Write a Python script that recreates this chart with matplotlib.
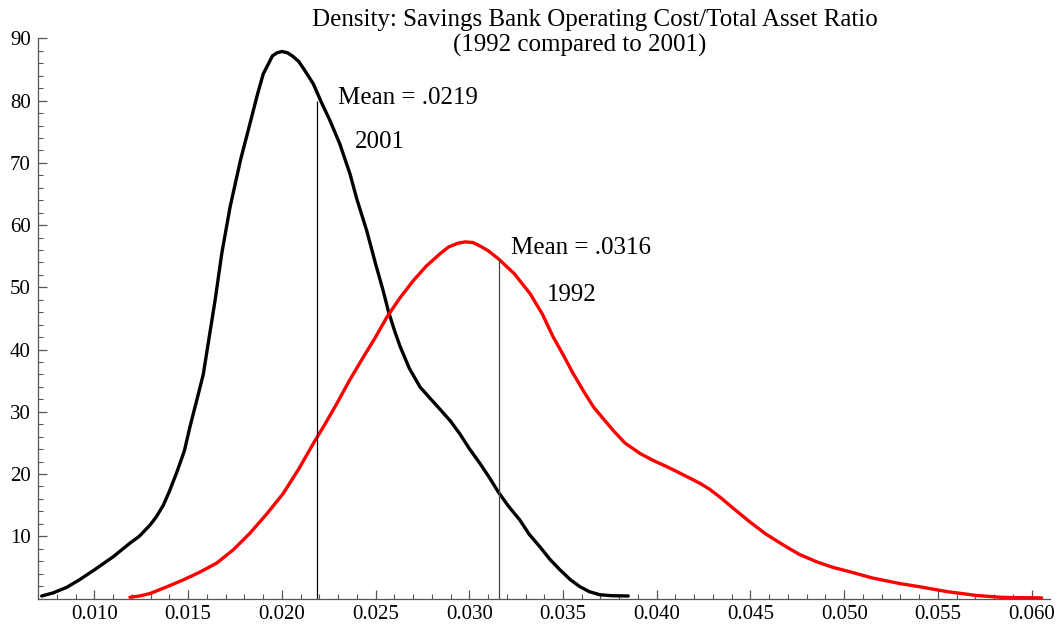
import matplotlib
matplotlib.use("Agg")
import matplotlib.pyplot as plt
from matplotlib.ticker import MultipleLocator, FixedLocator

plt.rcParams["font.family"] = ["Liberation Serif", "DejaVu Serif"]

# density estimates
x_2001 = [0.00719, 0.0078, 0.00853, 0.0092, 0.0100, 0.0110, 0.01190, 0.0124,
          0.01297, 0.0133, 0.01368, 0.0140, 0.01440, 0.0148, 0.01510, 0.0155,
          0.01581, 0.0161, 0.01644, 0.0168, 0.01724, 0.0178, 0.01830, 0.0187,
          0.01901, 0.0193, 0.01950, 0.01975, 0.02000, 0.0203, 0.02060, 0.0209,
          0.02115, 0.02168, 0.0221, 0.02257, 0.0231, 0.02364, 0.0240, 0.02453,
          0.0250, 0.02542, 0.0257, 0.02604, 0.02631, 0.0268, 0.02737, 0.0279,
          0.02844, 0.0290, 0.02951, 0.0300, 0.03057, 0.0311, 0.03155, 0.0321,
          0.03270, 0.0332, 0.03377, 0.0343, 0.03484, 0.0354, 0.03590, 0.0364,
          0.03697, 0.0376, 0.03848]
y_2001 = [0.4, 0.9, 1.8, 3.0, 4.6, 6.7, 8.9, 10.0,
          11.8, 13.1, 15.0, 17.2, 20.3, 23.7, 27.6, 32.3,
          36.0, 41.5, 47.9, 55.5, 62.9, 70.5, 76.3, 81.0,
          84.3, 86.0, 87.2, 87.7, 87.9, 87.7, 87.1, 86.3,
          85.2, 82.7, 79.8, 76.8, 73.0, 68.2, 64.2, 59.1,
          53.8, 49.3, 46.0, 42.8, 40.5, 37.0, 34.0, 32.2,
          30.4, 28.5, 26.4, 24.1, 21.7, 19.3, 17.1, 14.8,
          12.6, 10.3, 8.3, 6.3, 4.6, 3.0, 1.9, 1.1,
          0.6, 0.45, 0.4]

x_1992 = [0.01190, 0.0124, 0.01297, 0.0138, 0.01475, 0.0156, 0.01653, 0.0174,
          0.01830, 0.0192, 0.02008, 0.0209, 0.02168, 0.0223, 0.02293, 0.0236,
          0.02435, 0.0250, 0.02560, 0.0263, 0.02702, 0.0277, 0.02844, 0.0289,
          0.0294, 0.02977, 0.0302, 0.03060, 0.0310, 0.03155, 0.0324, 0.03324,
          0.0339, 0.03448, 0.0350, 0.03555, 0.0361, 0.03662, 0.0372, 0.03768,
          0.0383, 0.03911, 0.0398, 0.04053, 0.0414, 0.04231, 0.0428, 0.04337,
          0.0442, 0.04497, 0.0458, 0.04675, 0.0476, 0.04853, 0.0494, 0.05030,
          0.0515, 0.05297, 0.0540, 0.05475, 0.0555, 0.05653, 0.0570, 0.05831,
          0.0590, 0.06053]
y_1992 = [0.2, 0.4, 0.8, 1.8, 3.0, 4.2, 5.7, 7.8,
          10.5, 13.6, 16.9, 20.8, 24.9, 28.0, 31.3, 35.0,
          38.8, 42.0, 45.2, 48.3, 51.1, 53.4, 55.4, 56.5,
          57.1, 57.3, 57.2, 56.6, 55.9, 54.6, 52.2, 49.0,
          45.7, 42.0, 39.2, 36.1, 33.3, 30.8, 28.7, 27.0,
          25.0, 23.3, 22.2, 21.2, 19.9, 18.5, 17.6, 16.3,
          14.2, 12.3, 10.4, 8.6, 7.1, 5.9, 5.0, 4.3,
          3.3, 2.4, 1.9, 1.5, 1.1, 0.7, 0.5, 0.2,
          0.15, 0.1]

mean_2001, mean_2001_top = 0.0219, 80.0
mean_1992, mean_1992_top = 0.0316, 54.6

x_ticks = [0.010, 0.015, 0.020, 0.025, 0.030, 0.035, 0.040, 0.045, 0.050, 0.055, 0.060]
x_tick_labels = ["0.010", "0.015", "0.020", "0.025", "0.030", "0.035",
                 "0.040", "0.045", "0.050", "0.055", "0.060"]
y_ticks = [10, 20, 30, 40, 50, 60, 70, 80, 90]

fig = plt.figure(figsize=(10.6, 6.3), dpi=100)
ax = fig.add_axes([0.0356, 0.05, 0.955, 0.889])

ax.plot(x_2001, y_2001, color="black", lw=2.4, solid_capstyle="round",
        solid_joinstyle="round")
ax.plot(x_1992, y_1992, color="#ff0000", lw=2.4, solid_capstyle="round",
        solid_joinstyle="round")

ax.vlines([mean_2001, mean_1992], 0, [mean_2001_top, mean_1992_top],
          colors=["black", "#444444"], lw=0.9)

ax.text(0.0230, 80.5, "Mean = .0219", fontsize=18, va="center", ha="left")
ax.text(0.02391, 73.3, "2001", fontsize=18, va="center", ha="left")
ax.text(0.03222, 56.3, "Mean = .0316", fontsize=18, va="center", ha="left")
ax.text(0.03415, 48.7, "1992", fontsize=18, va="center", ha="left")

ax.set_xlim(0.00698, 0.06098)
ax.set_ylim(0, 90)

ax.xaxis.set_major_locator(FixedLocator(x_ticks))
ax.set_xticklabels(x_tick_labels)
ax.xaxis.set_minor_locator(MultipleLocator(0.001))
ax.yaxis.set_major_locator(FixedLocator(y_ticks))
ax.yaxis.set_minor_locator(MultipleLocator(2))

for side in ["top", "right"]:
    ax.spines[side].set_visible(False)
for side in ["left", "bottom"]:
    ax.spines[side].set_color("#555555")
    ax.spines[side].set_linewidth(0.9)

ax.tick_params(which="major", direction="in", length=6.5, width=0.9,
               color="#555555", labelsize=15, pad=5)
ax.tick_params(which="minor", direction="in", length=3.5, width=0.8,
               color="#555555")

fig.text(595 / 1060, 1 - 20 / 630, "Density: Savings Bank Operating Cost/Total Asset Ratio",
         fontsize=18, ha="center", va="center")
fig.text(580 / 1060, 1 - 45 / 630, "(1992 compared to 2001)",
         fontsize=18, ha="center", va="center")

fig.savefig("out.png", dpi=100)
